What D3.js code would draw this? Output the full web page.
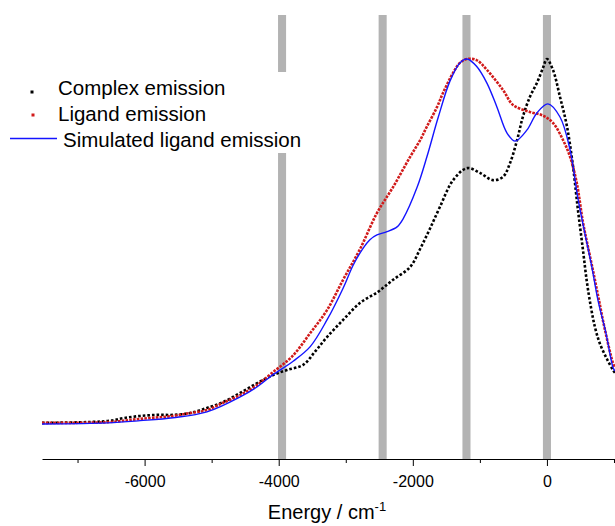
<!DOCTYPE html>
<html>
<head>
<meta charset="utf-8">
<script src="https://cdn.jsdelivr.net/npm/d3@7"></script>
<style>
  body { margin: 0; background: #fff; }
  svg { display: block; font-family: "Liberation Sans", Arial, sans-serif; }
  .axis text { font-size: 16px; fill: #000; }
  .axis path, .axis line { stroke: #000; stroke-width: 1; }
</style>
</head>
<body>
<script>
// energies in cm-1, intensities normalised to the ligand peak
var complexE = [-7530, -6550, -6315, -6065, -5810, -5575, -5320, -5070, -4830, -4575, -4320, -4085, -3875, -3635, -3450, -3280, -3040, -2785, -2520, -2295, -2040, -1890, -1745, -1595, -1400, -1190, -1000, -805, -655, -550, -445, -360, -255, -150, -60, 0, 90, 195, 300, 390, 460, 535, 595, 655, 715, 790, 895, 985, 1015];
var complexI = [0.003, 0.008, 0.016, 0.022, 0.025, 0.025, 0.030, 0.044, 0.060, 0.085, 0.112, 0.134, 0.148, 0.162, 0.200, 0.238, 0.285, 0.332, 0.362, 0.395, 0.430, 0.480, 0.535, 0.595, 0.668, 0.701, 0.688, 0.668, 0.677, 0.715, 0.778, 0.841, 0.896, 0.934, 0.975, 1.000, 0.970, 0.896, 0.814, 0.704, 0.590, 0.480, 0.390, 0.321, 0.266, 0.220, 0.178, 0.148, 0.140];

var ligandE = [-7530, -6550, -6065, -5575, -5320, -5070, -4830, -4575, -4320, -4085, -3800, -3530, -3280, -3040, -2785, -2535, -2295, -2040, -1890, -1790, -1640, -1550, -1400, -1295, -1190, -1050, -895, -655, -505, -255, -60, 90, 240, 345, 445, 535, 595, 685, 775, 865, 985, 1015];
var ligandI = [0.003, 0.005, 0.014, 0.022, 0.030, 0.038, 0.058, 0.079, 0.107, 0.142, 0.185, 0.249, 0.312, 0.395, 0.480, 0.578, 0.649, 0.732, 0.778, 0.815, 0.868, 0.907, 0.962, 0.990, 1.000, 0.997, 0.970, 0.915, 0.874, 0.855, 0.845, 0.825, 0.778, 0.732, 0.660, 0.555, 0.500, 0.422, 0.340, 0.258, 0.167, 0.155];

var simE = [-7530, -6550, -6065, -5575, -5070, -4575, -4320, -4085, -3785, -3530, -3280, -3040, -2890, -2740, -2640, -2535, -2385, -2235, -2145, -1935, -1790, -1620, -1445, -1295, -1190, -1050, -895, -745, -595, -475, -300, -150, 15, 195, 345, 460, 565, 670, 760, 880, 985, 1015];
var simI = [0.000, 0.003, 0.009, 0.017, 0.033, 0.074, 0.102, 0.135, 0.172, 0.212, 0.285, 0.372, 0.435, 0.482, 0.505, 0.518, 0.527, 0.540, 0.562, 0.649, 0.732, 0.841, 0.940, 0.990, 1.000, 0.980, 0.934, 0.868, 0.797, 0.775, 0.805, 0.852, 0.877, 0.841, 0.751, 0.620, 0.523, 0.430, 0.340, 0.249, 0.155, 0.145];

// gray marker bands
var bandE = [-3950, -2450, -1200, 0];
var bandWidth = 120;

var majorTicks = [-6000, -4000, -2000, 0];
var minorTicks = [-7000, -5000, -3000, -1000, 1000];

var legendNames = ["Complex emission", "Ligand emission", "Simulated ligand emission"];

var width = 615, height = 526;

var svg = d3.select("body").append("svg")
  .attr("width", width)
  .attr("height", height);

var x = d3.scaleLinear().domain([-7530, 1015]).range([42, 615]);
var y = d3.scaleLinear().domain([-0.096, 1.1205]).range([459, 15]);

// bands
svg.append("g").selectAll("rect")
  .data(bandE)
  .enter().append("rect")
  .attr("x", d => x(d - bandWidth / 2))
  .attr("width", d => x(d + bandWidth / 2) - x(d - bandWidth / 2))
  .attr("y", y(1.1205))
  .attr("height", y(-0.096) - y(1.1205))
  .attr("fill", "#b3b3b3");

function toPts(es, is) { return es.map((e, i) => [e, is[i]]); }

var line = d3.line()
  .x(d => x(d[0]))
  .y(d => y(d[1]))
  .curve(d3.curveCatmullRom.alpha(0.5));

// complex (black dotted)
svg.append("path")
  .datum(toPts(complexE, complexI))
  .attr("d", line)
  .attr("fill", "none")
  .attr("stroke", "#000")
  .attr("stroke-width", 2.6)
  .attr("stroke-dasharray", "2.6 2");

// ligand (red dotted)
svg.append("path")
  .datum(toPts(ligandE, ligandI))
  .attr("d", line)
  .attr("fill", "none")
  .attr("stroke", "#d11a1a")
  .attr("stroke-width", 2.6)
  .attr("stroke-dasharray", "2.6 1.2");

// simulated (blue line)
svg.append("path")
  .datum(toPts(simE, simI))
  .attr("d", line)
  .attr("fill", "none")
  .attr("stroke", "#1414ff")
  .attr("stroke-width", 1.4);

// x axis
var xAxis = svg.append("g")
  .attr("class", "axis")
  .attr("transform", "translate(0," + y(-0.096) + ")")
  .call(d3.axisBottom(x).tickValues(majorTicks).tickSize(7).tickSizeOuter(0).tickFormat(d => String(d)));
xAxis.selectAll("text").attr("y", 17);

svg.append("g")
  .attr("class", "axis")
  .attr("transform", "translate(0," + y(-0.096) + ")")
  .call(d3.axisBottom(x).tickValues(minorTicks).tickSize(4).tickSizeOuter(0).tickFormat(""))
  .select(".domain").remove();

var title = svg.append("text")
  .attr("x", 327)
  .attr("y", 519)
  .attr("text-anchor", "middle")
  .style("font-size", "20px");
title.append("tspan").text("Energy / cm");
title.append("tspan").attr("dy", -8).style("font-size", "13px").text("-1");

// legend
svg.append("rect")
  .attr("x", 0).attr("y", 72)
  .attr("width", 310).attr("height", 81)
  .attr("fill", "#fff");

var legendY = [95, 121, 147];
svg.append("rect").attr("x", 30.5).attr("y", 90.5).attr("width", 3).attr("height", 3).attr("fill", "#000");
svg.append("rect").attr("x", 31.5).attr("y", 113.5).attr("width", 3).attr("height", 3).attr("fill", "#d11a1a");
svg.append("line").attr("x1", 10).attr("x2", 57).attr("y1", 138.5).attr("y2", 138.5)
  .attr("stroke", "#1414ff").attr("stroke-width", 1.4);

svg.selectAll(".legtext")
  .data(legendNames)
  .enter().append("text")
  .attr("class", "legtext")
  .attr("x", (d, i) => i == 2 ? 63 : 58)
  .attr("y", (d, i) => legendY[i])
  .style("font-size", "20.5px")
  .text(d => d);
</script>
</body>
</html>
